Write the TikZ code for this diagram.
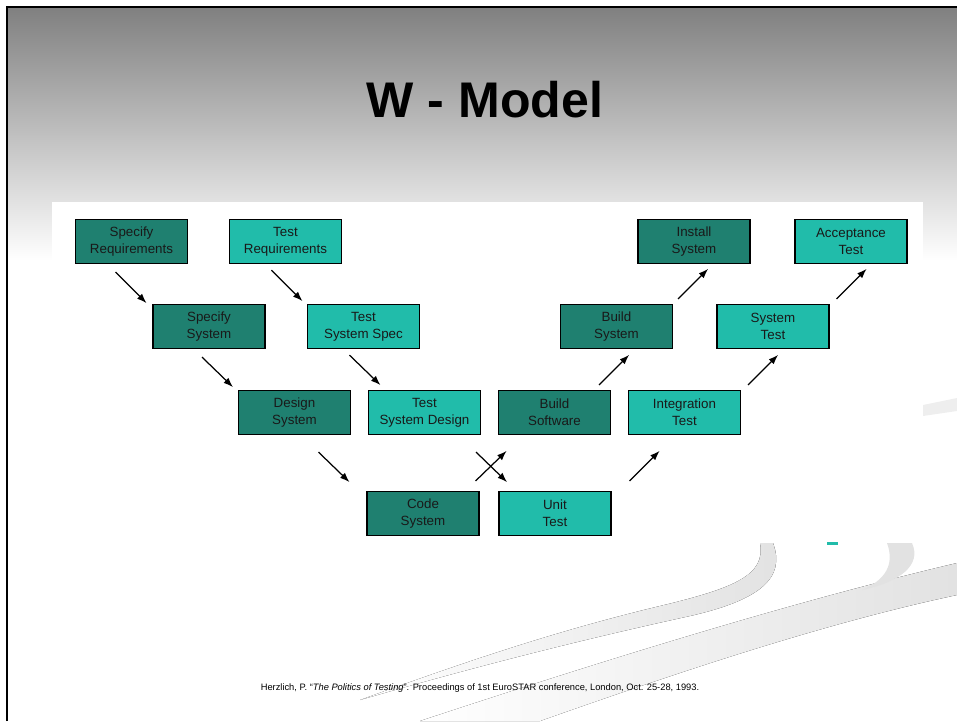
\documentclass[tikz,border=0pt]{standalone}
\usepackage{fontspec}
\setmainfont{Liberation Sans}
\usetikzlibrary{shapes,arrows,arrows.meta,calc}
\definecolor{tealdark}{RGB}{31,128,112}
\definecolor{teallight}{RGB}{33,188,170}
\definecolor{swoosh}{RGB}{226,226,226}
\tikzstyle{line} = [draw, -{Latex[length=5.5pt,width=4pt]}, line width=0.7pt]
\tikzstyle{block} = [draw, rectangle, text centered, align=center, line width=0.7pt, minimum width=2.24cm, minimum height=0.88cm, inner sep=0pt, font=\fontsize{7.6}{9.7}\selectfont, text=black!90]
\tikzstyle{dev} = [block, fill=tealdark]
\tikzstyle{test} = [block, fill=teallight]

\begin{document}
\begin{tikzpicture}[x=0.02cm, y=-0.02cm]
        \useasboundingbox (0,0) rectangle (957,721);
        % slide background
        \shade[top color=gray, bottom color=white] (7,7) rectangle (957,260);
        \fill[left color=white, right color=swoosh] (420,721) .. controls (620,655) and (800,600) .. (957,563) -- (957,595) .. controls (830,622) and (690,668) .. (540,721) -- cycle;
        \fill[left color=white, right color=swoosh] (360,700) .. controls (470,660) and (560,630) .. (660,606) .. controls (735,588) and (766,575) .. (760,543) -- (773,543) .. controls (786,578) and (760,600) .. (690,616) .. controls (580,640) and (470,668) .. (360,700) -- cycle;
        \fill[swoosh] (887,543) .. controls (895,565) and (885,580) .. (862,590) .. controls (900,582) and (922,565) .. (912,543) -- cycle;
        \fill[swoosh!60] (923,405) -- (957,398) -- (957,411) -- (923,416) -- cycle;
        \draw[line width=1.2pt] (7,721) -- (7,7) -- (957,7);
        % picture area
        \fill[white] (52,202) rectangle (923,542);
        \fill[teallight] (827,542) rectangle (838,544.5);

        \node[font=\fontsize{28.5}{34}\selectfont\bfseries] (title) at (485,100) {W - Model};

        \node[dev] (specreq) at (131.5,241.5) {Specify\\Requirements};
        \node[test, right of=specreq, node distance=3.08cm] (testreq) {Test\\Requirements};
        \node[dev] (specsys) at (209,326.5) {Specify\\System};
        \node[test, right of=specsys, node distance=3.09cm] (testspec) {Test\\System Spec};
        \node[dev] (designsys) at (294.5,412.5) {Design\\System};
        \node[test, right of=designsys, node distance=2.6cm] (testdesign) {Test\\System Design};
        \node[dev] (codesys) at (423,513.5) {Code\\System};
        \node[test, right of=codesys, node distance=2.64cm] (unittest) {Unit\\Test};
        \node[dev] (buildsw) at (554.5,412.5) {Build\\Software};
        \node[test, right of=buildsw, node distance=2.6cm] (integtest) {Integration\\Test};
        \node[dev] (buildsys) at (616.5,326.5) {Build\\System};
        \node[test, right of=buildsys, node distance=3.13cm] (systest) {System\\Test};
        \node[dev] (install) at (694,241.5) {Install\\System};
        \node[test, right of=install, node distance=3.14cm] (acctest) {Acceptance\\Test};

        % left arm, going down
        \path[line] (specreq.south) +(-16,8) -- +(15,39);
        \path[line] (testreq.south) +(-14,6) -- +(17,37);
        \path[line] (specsys.south) +(-7,8) -- +(24,38);
        \path[line] (testspec.south) +(-14,6) -- +(17,36);
        \path[line] (designsys.south) +(24,17) -- +(55,47);
        \path[line] (testdesign.south east) +(-5,17) -- +(26,47);
        % right arm, going up
        \path[line] (codesys.north east) +(-4,-10) -- +(27,-40);
        \path[line] (unittest.north east) +(18,-10) -- +(48,-40);
        \path[line] (buildsw.north east) +(-12,-5) -- +(18,-35);
        \path[line] (integtest.north east) +(7,-5) -- +(37,-35);
        \path[line] (buildsys.north east) +(5,-5) -- +(35,-35);
        \path[line] (systest.north east) +(7,-5) -- +(37,-35);

        \node[font=\fontsize{5.3}{6}\selectfont] (ref) at (480,688) {Herzlich, P. “\textit{The Politics of Testing}”. Proceedings of 1st EuroSTAR conference, London, Oct. 25-28, 1993.};
\end{tikzpicture}
\end{document}
